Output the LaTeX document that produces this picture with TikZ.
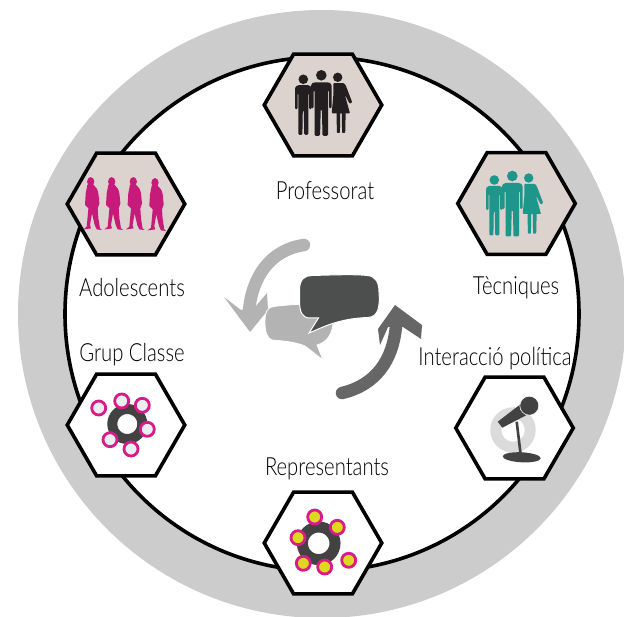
\documentclass[tikz,border=0pt]{standalone}
\usepackage{fontspec}
\setmainfont[FakeStretch=0.81]{Lato Light}
\usetikzlibrary{shapes.geometric}
\definecolor{ringgray}{HTML}{CCCCCC}
\definecolor{hexfill}{HTML}{DCD2CE}
\definecolor{teal1}{HTML}{1F968B}
\definecolor{ink}{HTML}{231F20}
\definecolor{pink1}{HTML}{C71B7B}
\definecolor{pink2}{HTML}{D81B87}
\definecolor{hubgray}{HTML}{434243}
\definecolor{dotgray}{HTML}{EBEEF0}
\definecolor{dotyellow}{HTML}{DCD91F}
\definecolor{bubdark}{HTML}{4D4F4F}
\definecolor{bublight}{HTML}{B3B3B3}
\definecolor{arrlight}{HTML}{B3B3B3}
\definecolor{arrdark}{HTML}{666666}
\tikzset{
  hexa/.style={regular polygon,regular polygon sides=6,minimum size=117.5pt,inner sep=0pt,outer sep=0pt,draw=black,line width=3.6pt,line join=miter},
  lab/.style={inner sep=0pt,font=\fontsize{25}{27}\selectfont,text=black},
  hub/.style={draw=hubgray,line width=10pt,fill=white},
  dot/.style={circle,minimum size=14pt,inner sep=0pt,draw=pink2,line width=2.8pt},
  pics/man/.style={code={
    \fill[#1] (0,0) circle (4.8);
    \fill[#1,rounded corners=1.2] (-8.3,11) -- (-8.3,8) -- (-5.5,5.8) -- (5.5,5.8) -- (8.3,8) -- (8.3,30) -- (5.8,30) -- (5.8,14) -- (5,14) -- (5,55.5) -- (0.9,55.5) -- (0.5,31) -- (-0.5,31) -- (-0.9,55.5) -- (-5,55.5) -- (-5,14) -- (-5.8,14) -- (-5.8,30) -- (-8.3,30) -- cycle;
  }},
  pics/bigman/.style={code={
    \fill[#1] (0,0) circle (5.3);
    \fill[#1,rounded corners=1.2] (-10.3,12) -- (-10.3,9) -- (-7.5,7) -- (7.5,7) -- (10.3,9) -- (10.3,33) -- (7.7,33) -- (7.7,15) -- (6.8,15) -- (6.8,60.5) -- (1.2,60.5) -- (0.6,34) -- (-0.6,34) -- (-1.2,60.5) -- (-6.8,60.5) -- (-6.8,15) -- (-7.7,15) -- (-7.7,33) -- (-10.3,33) -- cycle;
  }},
  pics/woman/.style={code={
    \fill[#1] (0,0) circle (4.7);
    \fill[#1,rounded corners=.8] (-4.3,5.8) -- (6,5.8) -- (8,8) -- (14.5,25) -- (12,26.5) -- (7,17) -- (12.3,36) -- (-6,36) -- (-4.2,16) -- cycle;
    \fill[#1,rounded corners=.8] (-1.2,34) -- (2.6,34) -- (2.2,55.7) -- (-0.8,55.7) -- cycle;
    \fill[#1,rounded corners=.8] (4,34) -- (8,34) -- (7.5,55.7) -- (4.4,55.7) -- cycle;
  }},
  pics/trio/.style={code={
    \pic at (303.3,79.3) {man=#1};
    \pic at (321.3,75.3) {bigman=#1};
    \pic at (337.7,77.3) {woman=#1};
  }},
  pics/walker/.style={code={
    \fill[pink1] (0,0) ellipse (3.6 and 4.6);
    \fill[pink1] (-3.3,3) -- (2.7,3) .. controls (5.5,5) and (7,8) .. (7.7,11.7) -- (8.7,21.7) -- (7,26.7) -- (7.7,36.7) -- (9.3,46.7) -- (11.3,48.3) -- (6,47.7) -- (4,43.3) -- (1.3,31.7) -- (-0.7,43.3) -- (0.3,46.7) -- (-7.3,47.7) -- (-4,45) -- (-2.3,26.7) -- (-5.7,23.3) -- (-5,11.7) -- cycle;
  }},
}
\begin{document}
\begin{tikzpicture}[x=1pt,y=-1pt]
\useasboundingbox (0,0) rectangle (624,617);
\clip (0,0) rectangle (624,617);
\fill[white] (0,0) rectangle (624,617);
% rings
\coordinate (c) at (322,314);
\fill[ringgray] (c) circle (304);
\draw[fill=white,line width=3.6pt] (c) circle (257);
% centre arrows
\draw[draw=arrlight,line width=12.5pt,line cap=round] (304,245) .. controls (270,250) and (252,277) .. (249,311);
\fill[arrlight] (224,297) -- (241,310) -- (255,307) -- (267,293) -- (268,310) -- (250,332) -- cycle;
\draw[draw=arrdark,line width=12.5pt,line cap=round] (342,393) .. controls (376,385) and (393,360) .. (396,326);
\fill[arrdark] (395,305) -- (422,325) -- (421,339) -- (403,327) -- (388,327) -- (380,345) -- (378,329) -- cycle;
% bubbles
\fill[bublight,draw=white,line width=.8pt] (265,322) .. controls (265,311) and (268,307) .. (274,306.5) .. controls (285,305) and (300,304) .. (315,304) -- (333,322) .. controls (333,332) and (328,342) .. (317,345) -- (323,360) -- (305,346) .. controls (295,342) and (285,341) .. (272,340) .. controls (267,338) and (265,332) .. (265,322) -- cycle;
\fill[bubdark,draw=white,line width=1pt] (299.5,290) .. controls (299.5,279) and (305,275.5) .. (312,275.5) .. controls (330,275) and (355,274) .. (367,275.5) .. controls (376,276) and (379,283) .. (379,292) .. controls (380,305) and (379,317) .. (368,317.5) .. controls (350,318) and (335,322) .. (323,327) -- (309,333) -- (318.5,318) -- (310,318) .. controls (302,318) and (299.5,312) .. (299.5,300) -- cycle;
% hexagons
\node[hexa,fill=hexfill] (prof) at (323,105) {};
\node[hexa,fill=hexfill] (tec) at (516.5,203.5) {};
\node[hexa,fill=hexfill] (ado) at (126,204) {};
\node[hexa,fill=white] (grup) at (126,425) {};
\node[hexa,fill=white] (inter) at (514.5,428) {};
\node[hexa,fill=white] (rep) at (323,543) {};
% people
\pic at (0,0) {trio=ink};
\begin{scope}[shift={(191,100.7)}]
\pic at (0,0) {trio=teal1};
\end{scope}
\pic at (90.7,181.7) {walker};
\pic at (111.7,181.7) {walker};
\pic at (133.3,181.7) {walker};
\pic at (155,182.7) {walker};
% group classe
\draw[hub] (127.3,424) circle (15);
\foreach \i/\p in {a/{98.7,408},b/{121.7,401},c/{142.3,405.3},d/{147.3,429.3},e/{110,439.7},f/{131,449}} {
  \node[dot,fill=dotgray] (g\i) at (\p) {};
}
% representants
\draw[hub,line width=11pt] (318.7,543.3) circle (16.3);
\foreach \i/\p in {a/{314.7,517},b/{337.3,527.3},c/{298,537.7},d/{348.7,560.3},e/{303.3,563.3},f/{324.7,567}} {
  \node[dot,fill=dotyellow] (r\i) at (\p) {};
}
% microphone
\draw[black!14,line width=11pt] (513,430) circle (17.2);
\fill[hubgray] (497.7,421.7) -- (502.3,427.7) -- (526.7,415) -- (521.7,403.3) -- cycle;
\fill[hubgray,draw=white,line width=.6pt] (529.3,405.7) circle (9.5);
\draw[hubgray,line width=2.6pt] (516.7,421.7) -- (520.7,455);
\fill[hubgray,rotate around={-3:(521.7,457.3)}] (521.7,457.3) ellipse (19 and 5);
% labels
\node[lab] (lprof) at (325,190.5) {Professorat};
\node[lab] (ltec) at (516,288) {Tècniques};
\node[lab] (lado) at (132,287.5) {Adolescents};
\node[lab] (lgrup) at (132,355) {Grup Classe};
\node[lab] (lint) at (495,359) {Interacció política};
\node[lab] (lrep) at (327,468.5) {Representants};
\end{tikzpicture}
\end{document}
